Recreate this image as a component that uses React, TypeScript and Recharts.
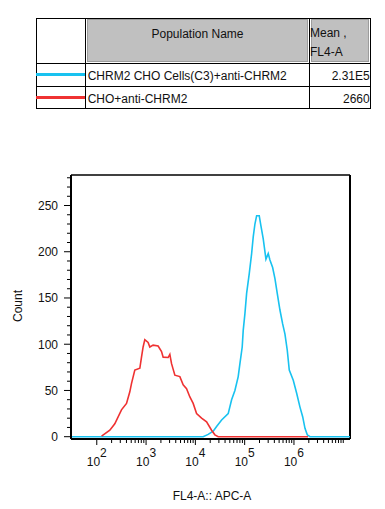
import React from 'react';
import { LineChart, Line, XAxis, YAxis, ReferenceLine, Label } from 'recharts';

const populationNames = ['CHRM2 CHO Cells(C3)+anti-CHRM2', 'CHO+anti-CHRM2'];
const meanValues = ['2.31E5', '2660'];
const seriesColors = ['#18c2f0', '#ef3232'];
const headerNames = ['Population Name', 'Mean ,', 'FL4-A'];

// CHRM2 CHO Cells(C3)+anti-CHRM2 (cyan)
const cyanX = [30, 14400, 18200, 22980, 26950, 34050, 46350, 54330, 63390, 73960, 80100, 89150, 93460, 101200, 109550, 123700, 138400, 149150, 161500, 174900, 197400, 213800, 238000, 270100, 300700, 325600, 369400, 411400, 458100, 519600, 589600, 656800, 731300, 803100, 967900, 1134500, 1323800, 1502000, 1673000, 1862000, 2113000, 13700000];
const cyanCount = [0, 0, 2.5, 6, 11, 18, 25, 40, 50, 65, 79, 97, 115, 133, 155, 176, 198, 216, 230, 239, 239, 228, 214, 192, 198, 191, 183, 171, 155, 137, 122, 111, 93.5, 72, 61, 47, 32, 21.6, 9, 2, 0, 0];

// CHO+anti-CHRM2 (red)
const redX = [125, 184, 232, 317, 401, 468, 507, 591, 747, 808, 871, 943, 1100, 1192, 1390, 1756, 2059, 2220, 2804, 3035, 3287, 3836, 4846, 5654, 6627, 7734, 9023, 10578, 13364, 16880, 21323, 24888, 29040, 1924000];
const redCount = [0.7, 7, 14, 29, 36, 48.5, 57.6, 72, 74, 86, 97, 105, 102, 97, 99, 98, 92, 86, 85.6, 89, 79, 66.5, 65, 56, 52, 43, 36, 25, 20, 16, 7, 2, 0, 0];

const xMajorTicks = [100, 1000, 10000, 100000, 1000000];
const xMinorMultipliers = [2, 3, 4, 5, 6, 7, 8, 9];
const yTicks = [0, 10, 20, 30, 40, 50, 60, 70, 80, 90, 100, 110, 120, 130, 140, 150, 160, 170, 180, 190, 200, 210, 220, 230, 240, 250, 260, 270, 280];
const yLabelTicks = [0, 50, 100, 150, 200, 250];

const xDomain: [number, number] = [30, 13700000];
const yDomain: [number, number] = [-2.5, 283];

const cyanData = cyanX.map((x, i) => ({ x, count: cyanCount[i] }));
const redData = redX.map((x, i) => ({ x, count: redCount[i] }));
const xTicks: number[] = [];
xMajorTicks.forEach((m) => {
  xTicks.push(m);
  xMinorMultipliers.forEach((k) => xTicks.push(m * k));
});
xTicks.push(10000000);

const FONT = '"Liberation Sans", Arial, sans-serif';

const XTick = (props: any) => {
  const { x, y, payload } = props;
  const v = payload.value;
  const major = xMajorTicks.includes(v);
  const exp = Math.round(Math.log10(v));
  return (
    <g>
      <line x1={x} x2={x} y1={y} y2={y + (major ? 6 : 4)} stroke="#000" strokeWidth={1} />
      {major && (
        <text x={x} y={y + 27} textAnchor="middle" fontSize={12} fontFamily={FONT} fill="#111">
          <tspan>10</tspan>
          <tspan dy={-9}>{exp}</tspan>
        </text>
      )}
    </g>
  );
};

const YTick = (props: any) => {
  const { x, y, payload } = props;
  const v = payload.value;
  const major = yLabelTicks.includes(v);
  return (
    <g>
      <line x1={x} x2={x - (major ? 7 : 4)} y1={y} y2={y} stroke="#000" strokeWidth={1} />
      {major && (
        <text x={x - 13} y={y + 4.3} textAnchor="end" fontSize={12} fontFamily={FONT} fill="#111">
          {v}
        </text>
      )}
    </g>
  );
};

const abs = (s: React.CSSProperties): React.CSSProperties => ({ position: 'absolute', ...s });

const txt: React.CSSProperties = {
  fontFamily: FONT,
  fontSize: 12,
  lineHeight: '14px',
  color: '#111',
  whiteSpace: 'nowrap',
};

export default function App() {
  return (
    <div style={{ position: 'absolute', left: 0, top: 0, width: 385, height: 509, background: '#fff', overflow: 'hidden' }}>
      {/* Table */}
      <div style={abs({ left: 36, top: 18, width: 335, height: 91, border: '1px solid #000', boxSizing: 'border-box' })} />
      <div style={abs({ left: 85, top: 18, width: 1, height: 91, background: '#000' })} />
      <div style={abs({ left: 309, top: 18, width: 1, height: 91, background: '#000' })} />
      <div style={abs({ left: 36, top: 63, width: 335, height: 1, background: '#000' })} />
      <div style={abs({ left: 36, top: 86, width: 335, height: 1, background: '#000' })} />
      <div style={abs({ left: 87, top: 19, width: 221, height: 43, background: '#c0c0c0', border: '1px solid #9c9c9c', boxSizing: 'border-box' })} />
      <div style={abs({ left: 311, top: 19, width: 58, height: 43, background: '#c0c0c0', border: '1px solid #9c9c9c', boxSizing: 'border-box' })} />
      <div style={abs({ ...txt, left: 87, top: 27, width: 221, textAlign: 'center' })}>{headerNames[0]}</div>
      <div style={abs({ ...txt, left: 310, top: 26 })}>{headerNames[1]}</div>
      <div style={abs({ ...txt, left: 310, top: 45 })}>{headerNames[2]}</div>
      {populationNames.map((name, i) => (
        <React.Fragment key={name}>
          <div style={abs({ left: 36, top: 72.5 + i * 23.3, width: 49, height: 3.2, background: seriesColors[i] })} />
          <div style={abs({ ...txt, left: 87.7, top: 69 + i * 22.6 })}>{name}</div>
          <div style={abs({ ...txt, left: 310, top: 69 + i * 22.6, width: 59.7, textAlign: 'right' })}>{meanValues[i]}</div>
        </React.Fragment>
      ))}

      {/* Histogram */}
      <div style={abs({ left: 0, top: 0 })}>
        <LineChart width={385} height={509} margin={{ top: 175, right: 35, bottom: 0, left: 0 }}>
          <XAxis
            dataKey="x"
            type="number"
            scale="log"
            domain={xDomain}
            allowDataOverflow
            ticks={xTicks}
            interval={0}
            tick={<XTick />}
            tickLine={false}
            tickSize={0}
            tickMargin={0}
            axisLine={{ stroke: '#000', strokeWidth: 2 }}
            height={70}
          >
            <Label
              content={() => (
                <text x={212} y={500} textAnchor="middle" fontSize={12} fontFamily={FONT} fill="#111">
                  FL4-A:: APC-A
                </text>
              )}
            />
          </XAxis>
          <YAxis
            type="number"
            domain={yDomain}
            allowDataOverflow
            ticks={yTicks}
            interval={0}
            tick={<YTick />}
            tickLine={false}
            tickSize={0}
            tickMargin={0}
            axisLine={{ stroke: '#000', strokeWidth: 2 }}
            width={71}
          >
            <Label
              content={() => (
                <text x={21.5} y={306} transform="rotate(-90 21.5 306)" textAnchor="middle" fontSize={12} fontFamily={FONT} fill="#111">
                  Count
                </text>
              )}
            />
          </YAxis>
          <ReferenceLine y={yDomain[1]} stroke="#000" strokeWidth={1.6} />
          <ReferenceLine x={xDomain[1]} stroke="#000" strokeWidth={2} />
          <Line data={cyanData} dataKey="count" type="linear" stroke={seriesColors[0]} strokeWidth={1.6} dot={false} isAnimationActive={false} />
          <Line data={redData} dataKey="count" type="linear" stroke={seriesColors[1]} strokeWidth={1.6} dot={false} isAnimationActive={false} />
        </LineChart>
      </div>
    </div>
  );
}
